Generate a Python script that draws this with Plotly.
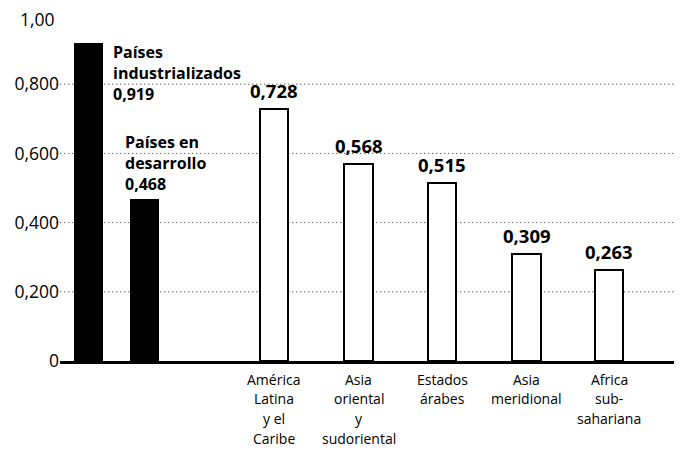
import plotly.graph_objects as go

# ---- data ----
groups = ["Países industrializados", "Países en desarrollo"]
group_values = [0.919, 0.468]
group_value_text = ["0,919", "0,468"]

regions = ["América Latina y el Caribe", "Asia oriental y sudoriental", "Estados árabes",
           "Asia meridional", "Africa subsahariana"]
region_values = [0.728, 0.568, 0.515, 0.309, 0.263]
region_value_text = ["0,728", "0,568", "0,515", "0,309", "0,263"]
region_label_lines = [["América", "Latina", "y el", "Caribe"],
                      ["Asia", "oriental", "y", "sudoriental"],
                      ["Estados", "árabes"],
                      ["Asia", "meridional"],
                      ["Africa", "sub-", "sahariana"]]

y_tickvals = [0, 0.2, 0.4, 0.6, 0.8, 1.0]
y_ticktext = ["0", "0,200", "0,400", "0,600", "0,800", "1,00"]

# ---- layout helpers (slot positions along the axis, in bar-width units) ----
group_pos = [1.0, 2.92]
region_pos = [7.40, 10.33, 13.22, 16.14, 19.0]
x_range = [0, 21.52]

FONT = "Open Sans"

fig = go.Figure()
fig.add_trace(go.Bar(x=group_pos, y=group_values, width=1.0,
                     marker=dict(color="black", line=dict(color="black", width=0)),
                     hoverinfo="skip", showlegend=False))
fig.add_trace(go.Bar(x=region_pos, y=region_values, width=0.98,
                     marker=dict(color="white", line=dict(color="black", width=2)),
                     hoverinfo="skip", showlegend=False))

# dotted gridlines
for v in y_tickvals[1:-1]:
    fig.add_shape(type="line", xref="paper", yref="y", x0=-0.006, x1=1, y0=v, y1=v,
                  line=dict(color="#222", width=1, dash="1px,3px"), layer="below")

annotations = []
# top tick label (placed as annotation so it is not hidden at the figure edge)
annotations.append(dict(x=0, y=y_tickvals[-1], xref="paper", yref="y", text=y_ticktext[-1],
                        xanchor="right", yanchor="middle", xshift=-3, yshift=-4,
                        showarrow=False, font=dict(family=FONT, size=17.5, color="black")))
# side labels for black bars
annotations.append(dict(x=group_pos[0] + 0.5, y=group_values[0], xref="x", yref="y",
                        text="<b>Países<br>industrializados<br>" + group_value_text[0] + "</b>",
                        xanchor="left", yanchor="top", align="left", xshift=8, yshift=4,
                        showarrow=False, font=dict(family=FONT, size=16, color="black")))
annotations.append(dict(x=group_pos[1], y=group_values[1], xref="x", yref="y",
                        text="<b>Países en<br>desarrollo<br>" + group_value_text[1] + "</b>",
                        xanchor="left", yanchor="bottom", align="left", xshift=-21, yshift=2,
                        showarrow=False, font=dict(family=FONT, size=16, color="black")))
# value labels above white bars
for p, v, t in zip(region_pos, region_values, region_value_text):
    annotations.append(dict(x=p, y=v, xref="x", yref="y", text="<b>" + t + "</b>",
                            xanchor="center", yanchor="bottom", yshift=4, showarrow=False,
                            font=dict(family=FONT, size=18.5, color="black")))
# category labels below
for p, lines in zip(region_pos, region_label_lines):
    for i, line in enumerate(lines):
        annotations.append(dict(x=p, y=0, xref="x", yref="y", text=line,
                                xanchor="center", yanchor="middle", yshift=-18 - 19.7 * i,
                                showarrow=False,
                                font=dict(family=FONT, size=14, color="black")))

# the page body adds an 8px margin, so the figure is sized/offset to compensate
fig.update_layout(
    width=674, height=442,
    margin=dict(l=52, r=0, t=7, b=89, pad=0),
    plot_bgcolor="white", paper_bgcolor="white",
    bargap=0,
    annotations=annotations,
    xaxis=dict(range=x_range, showgrid=False, zeroline=False, showticklabels=False,
               ticks="", showline=True, linecolor="black", linewidth=3, fixedrange=True),
    yaxis=dict(range=[0, 1.0], tickvals=y_tickvals[:-1], ticktext=y_ticktext[:-1],
               showgrid=False, zeroline=False, showline=False,
               ticks="", ticklen=0,
               tickfont=dict(family=FONT, size=17.5, color="black")),
)

fig.write_html("out.html")
